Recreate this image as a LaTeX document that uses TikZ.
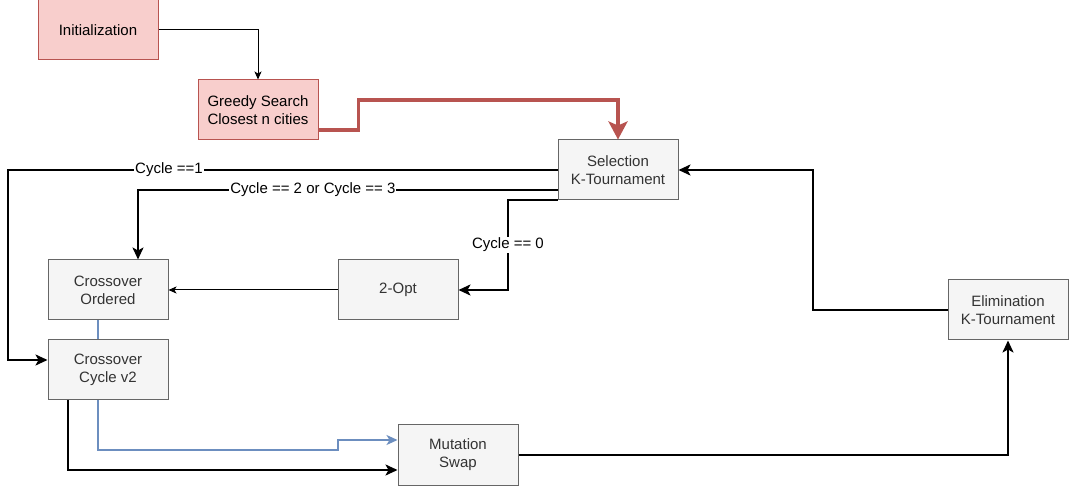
\documentclass[tikz,border=0pt]{standalone}
\usepackage{fontspec}
\setmainfont{Liberation Sans}
\usetikzlibrary{arrows.meta,calc}
\definecolor{redfill}{HTML}{F8CECC}
\definecolor{redline}{HTML}{B85450}
\definecolor{grayfill}{HTML}{F5F5F5}
\definecolor{grayline}{HTML}{666666}
\definecolor{graytext}{HTML}{333333}
\definecolor{blueline}{HTML}{6C8EBF}
\begin{document}
\begin{tikzpicture}[x=1pt,y=-1pt,
  box/.style={rectangle,draw,line width=1pt,minimum width=120pt,minimum height=60pt,
    inner sep=0pt,align=center,font=\fontsize{15}{18}\selectfont},
  redbox/.style={box,fill=redfill,draw=redline,text=black},
  graybox/.style={box,fill=grayfill,draw=grayline,text=graytext},
  thinarrow/.style={line width=1pt,-{Stealth[length=8pt,width=7pt,inset=2pt]}},
  thickarrow/.style={line width=2pt,-{Stealth[length=12pt,width=11pt,inset=3pt]}},
  bluearrow/.style={line width=1.6pt,draw=blueline,-{Stealth[length=11pt,width=10pt,inset=3pt]}},
  redarrow/.style={line width=3.5pt,draw=redline,-{Stealth[length=18pt,width=19pt,inset=4pt]}},
  lbl/.style={fill=white,text=black,inner sep=1pt,font=\fontsize{15}{18}\selectfont}
]
\useasboundingbox (0,0) rectangle (1069,486);

\node[redbox] (init) at (98,30) {Initialization};
\node[redbox] (greedy) at (258,110) {Greedy Search\\Closest n cities};
\node[graybox] (sel) at (618,170) {Selection\\K-Tournament};
\node[graybox] (xo) at (108,290) {Crossover\\Ordered};
\node[graybox] (opt) at (398,290) {2-Opt};
\node[graybox] (xc) at (108,370) {Crossover\\Cycle v2};
\node[graybox] (mut) at (458,455) {Mutation\\Swap};
\node[graybox] (elim) at (1008,310) {Elimination\\K-Tournament};

% Initialization -> Greedy
\draw[thinarrow] (init.east) -| (greedy.north);
% Greedy -> Selection
\draw[redarrow] ([yshift=-20pt]greedy.east) -- ++(40,0) -- ++(0,-30) -| (sel.north);
% Selection -> Crossover Cycle (Cycle ==1)
\draw[thickarrow] (sel.west) -- node[lbl,pos=0.707] {Cycle ==1} (8,170) |- ([yshift=10pt]xc.west);
% Selection -> Crossover Ordered
\draw[thickarrow] ([yshift=-20pt]sel.west) -- node[lbl,pos=0.583] {Cycle == 2 or Cycle == 3} (138,190) -- ([xshift=30pt]xo.north);
% Selection -> 2-Opt
\draw[thickarrow] ([yshift=-30pt]sel.west) -- (508,200) -- node[lbl] {Cycle == 0} (508,290) -- (opt.east);
% 2-Opt -> Crossover Ordered
\draw[thinarrow] (opt.west) -- (xo.east);
% Crossover Ordered -- Crossover Cycle (blue)
\draw[line width=1.6pt,draw=blueline] ([xshift=-10pt]xo.south) -- ([xshift=-10pt]xc.north);
% Crossover Cycle -> Mutation (blue)
\draw[bluearrow] ([xshift=-10pt]xc.south) -- (98,450) -- (338,450) -- (338,440) -- ([yshift=15pt]mut.west);
% Crossover Cycle -> Mutation (black)
\draw[thickarrow] ([xshift=-40pt]xc.south) |- ([yshift=-15pt]mut.west);
% Mutation -> Elimination
\draw[thickarrow] (mut.east) -| (elim.south);
% Elimination -> Selection
\draw[thickarrow] (elim.west) -- (813,310) |- (sel.east);
\end{tikzpicture}
\end{document}
